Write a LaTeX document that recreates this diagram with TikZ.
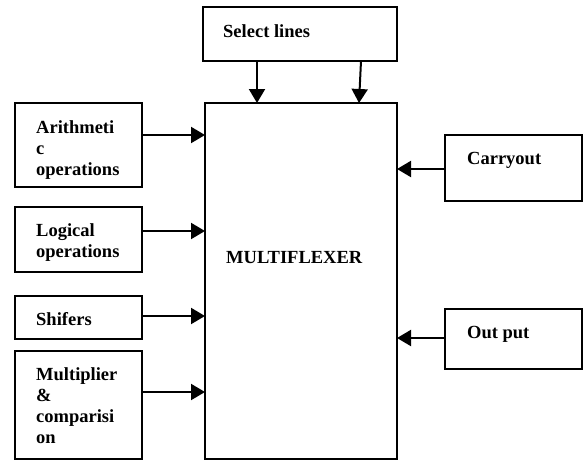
\documentclass[tikz,border=0pt]{standalone}
\usepackage{fontspec}
\setmainfont{Liberation Serif}
\usetikzlibrary{arrows.meta,positioning}
\def\Mux{MULTIFLEXER}

\begin{document}
\begin{tikzpicture}[x=1pt,y=-1pt,% one unit per pixel, y going down
			every node/.style={
				align=left,  		% use this so that the "\\" for line break works
				font=\fontsize{18.5}{21}\selectfont\bfseries
			},
			box/.style={rectangle,draw=black,line width=1.2pt,inner sep=0pt,outer sep=0pt},
			txt/.style={anchor=north west,inner sep=0pt},
			every edge/.style={draw,line width=2pt},
			>={Triangle[length=14pt,width=16pt]}
		]
		\useasboundingbox (0,0) rectangle (583,461);
		% the multiplexer and its inputs
		\node[box,minimum width=192pt,minimum height=356pt,anchor=north west](Mux) at (205,103){};
		\node[txt](MuxT) at ([shift={(21pt,-148pt)}]Mux.north west){\Mux};
		\node[box,minimum width=194pt,minimum height=54pt](Sel)[above=42pt of Mux.north west,anchor=south west,xshift=-2pt]{};
		\node[txt](SelT) at ([shift={(20pt,-17.5pt)}]Sel.north west){Select lines};
		\node[box,minimum width=127pt,minimum height=84pt](Arith)[left=63pt of Mux.north west,anchor=north east]{};
		\node[txt](ArithT) at ([shift={(21pt,-17pt)}]Arith.north west){Arithmeti\\c\\operations};
		\node[box,minimum width=127pt,minimum height=65pt](Logic)[below=20pt of Arith.south west,anchor=north west]{};
		\node[txt](LogicT) at ([shift={(21pt,-16pt)}]Logic.north west){Logical\\operations};
		\node[box,minimum width=127pt,minimum height=43pt](Shift)[below=24pt of Logic.south west,anchor=north west]{};
		\node[txt](ShiftT) at ([shift={(21pt,-16pt)}]Shift.north west){Shifers};
		\node[box,minimum width=127pt,minimum height=108pt](Mult)[below=12pt of Shift.south west,anchor=north west]{};
		\node[txt](MultT) at ([shift={(21pt,-16pt)}]Mult.north west){Multiplier\\\&\\comparisi\\on};
		\node[box,minimum width=137pt,minimum height=66pt](Carry)[right=48pt of Mux.north east,anchor=north west,yshift=-32pt]{};
		\node[txt](CarryT) at ([shift={(22pt,-17pt)}]Carry.north west){Carryout};
		\node[box,minimum width=137pt,minimum height=60pt](Out)[below=108pt of Carry.south west,anchor=north west]{};
		\node[txt](OutT) at ([shift={(22pt,-17pt)}]Out.north west){Out put};
		\path[->]
		([xshift=54pt]Sel.south west)edge ([xshift=54pt]Sel.south west |- Mux.north)
		([xshift=-36pt]Sel.south east)edge ([xshift=-38pt]Mux.north east)
		([yshift=10pt]Arith.east)edge ([yshift=10pt]Arith.east -| Mux.west)
		([yshift=8.5pt]Logic.east)edge ([yshift=8.5pt]Logic.east -| Mux.west)
		([yshift=1.5pt]Shift.east)edge ([yshift=1.5pt]Shift.east -| Mux.west)
		([yshift=13pt]Mult.east)edge ([yshift=13pt]Mult.east -| Mux.west)
		([yshift=-1pt]Carry.west)edge ([yshift=-1pt]Carry.west -| Mux.east)
		([yshift=1pt]Out.west)edge ([yshift=1pt]Out.west -| Mux.east)
		;
	\end{tikzpicture}
\end{document}
